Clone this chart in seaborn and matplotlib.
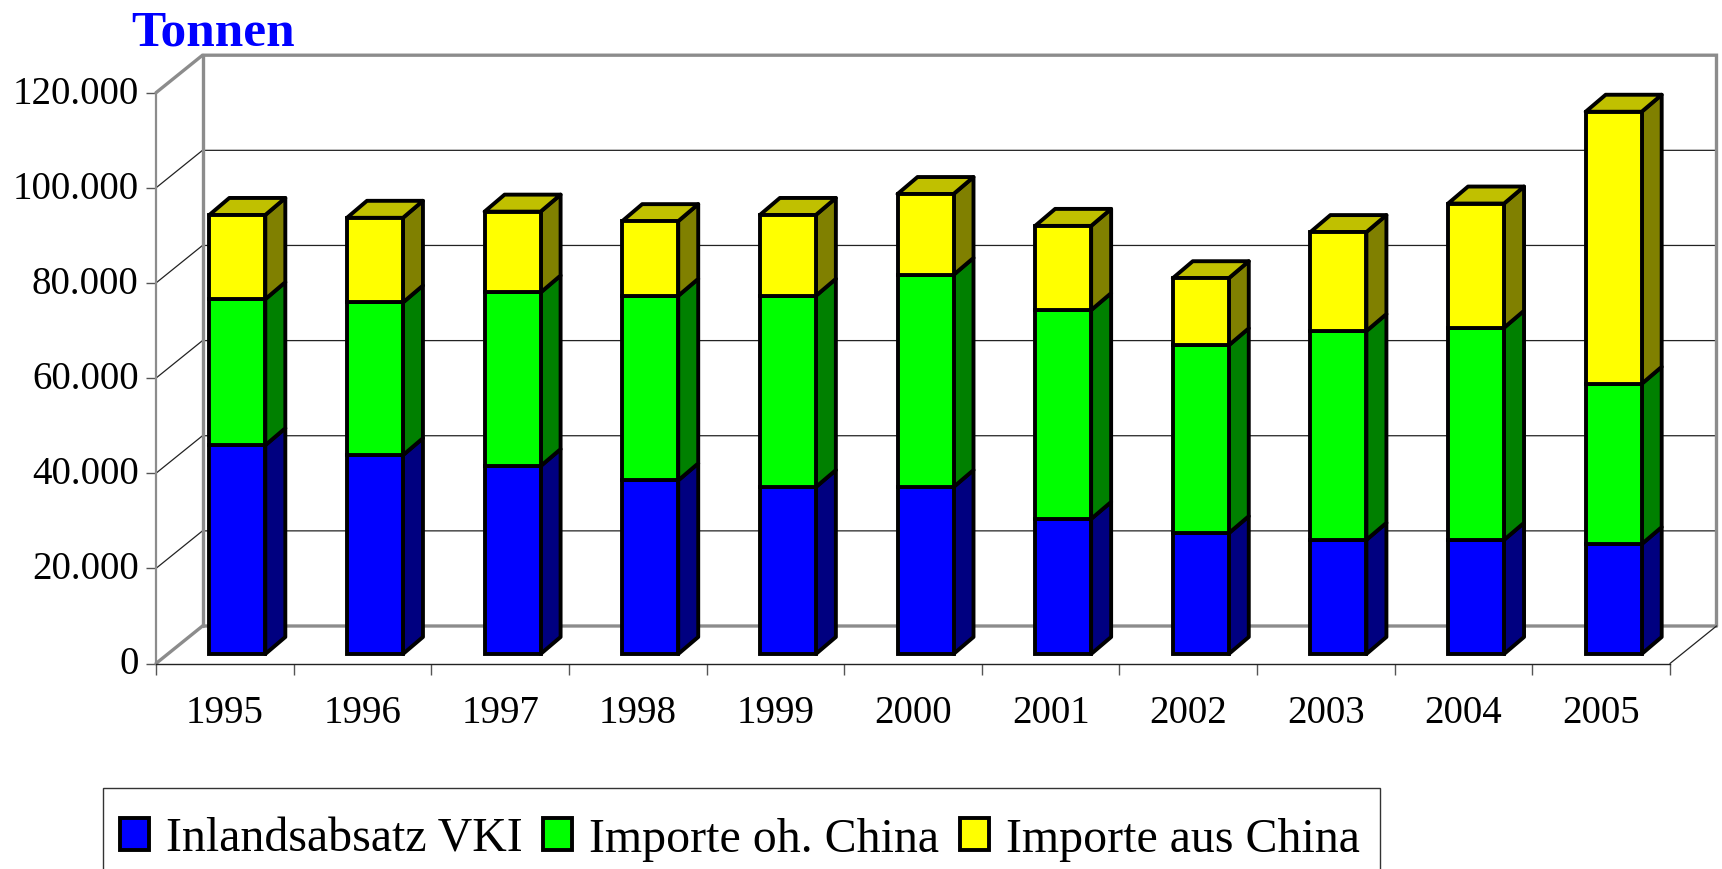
import numpy as np
import seaborn as sns
import matplotlib
matplotlib.use('Agg')
import matplotlib.pyplot as plt
from matplotlib.patches import Patch, Polygon, Rectangle
from matplotlib.ticker import FuncFormatter
from matplotlib.transforms import offset_copy, ScaledTranslation

years = ['1995', '1996', '1997', '1998', '1999', '2000', '2001', '2002', '2003', '2004', '2005']
inland = [43900, 41800, 39500, 36500, 35100, 35100, 28400, 25400, 24000, 24000, 23100]
imports_other = [30700, 32100, 36500, 38800, 40200, 44600, 43900, 39500, 43900, 44600, 33700]
imports_china = [17700, 17800, 17000, 15700, 17000, 17000, 17700, 14100, 20800, 26100, 57200]
series_names = ['Inlandsabsatz VKI', 'Importe oh. China', 'Importe aus China']
yticks = [0, 20000, 40000, 60000, 80000, 100000, 120000]

front_colors = ['#0000ff', '#00ff00', '#ffff00']
side_colors = ['#000080', '#008000', '#808000']
top_color = '#c0c000'
wall_gray = '#8c8c8c'

# pixel layout of the front plane, the rest hangs off it
PX_LEFT, PX_RIGHT, PX_BOTTOM, PX_TOP = 156, 1670, 664.5, 93.7
W, H = 1722, 870
px_x = (PX_RIGHT - PX_LEFT) / len(years)
px_y = (PX_BOTTOM - PX_TOP) / yticks[-1]
wall_dx, wall_dy = 46.5 / px_x, 37.5 / px_y
bar_dx, bar_dy = 20 / px_x, 17 / px_y
BAR_LW = 2.8

sns.set_style('white')
plt.rcParams['font.family'] = ['Liberation Serif', 'DejaVu Serif']
plt.rcParams['text.color'] = 'black'

fig = plt.figure(figsize=(W / 100, H / 100), dpi=100)
ax = fig.add_axes([PX_LEFT / W, (H - PX_BOTTOM) / H, (PX_RIGHT - PX_LEFT) / W, (PX_BOTTOM - PX_TOP) / H])

# stacked bars, front faces
bottom = np.zeros(len(years))
stacks = [inland, imports_other, imports_china]
for vals, col in zip(stacks, front_colors):
    sns.barplot(x=years, y=vals, bottom=bottom, color=col, saturation=1, width=56 / px_x,
                edgecolor='black', linewidth=BAR_LW, errorbar=None, ax=ax)
    bottom = bottom + np.array(vals)

ax.set_xlim(-0.5, len(years) - 0.5)
ax.set_ylim(0, yticks[-1])

# bars stand a little behind the front edge of the floor
shifted = offset_copy(ax.transData, fig=fig, x=12.5, y=9.5, units='dots')
for cont, side in zip(ax.containers, side_colors):
    for bar in cont:
        x, y, w, h = bar.get_x(), bar.get_y(), bar.get_width(), bar.get_height()
        bar.set_transform(shifted)
        bar.set_clip_on(False)
        bar.set_zorder(5)
        right = [(x + w, y), (x + w + bar_dx, y + bar_dy), (x + w + bar_dx, y + h + bar_dy), (x + w, y + h)]
        ax.add_patch(Polygon(right, closed=True, facecolor=side, edgecolor='black', linewidth=BAR_LW,
                             joinstyle='round', transform=shifted, clip_on=False, zorder=4))

for bar in ax.containers[-1]:
    x, y, w, h = bar.get_x(), bar.get_y(), bar.get_width(), bar.get_height()
    top = [(x, y + h), (x + bar_dx, y + h + bar_dy), (x + w + bar_dx, y + h + bar_dy), (x + w, y + h)]
    ax.add_patch(Polygon(top, closed=True, facecolor=top_color, edgecolor='black', linewidth=BAR_LW,
                         joinstyle='round', transform=shifted, clip_on=False, zorder=4))

# back wall, floor and gridlines
x0, x1 = -0.5, len(years) - 0.5
ymax = yticks[-1]
for v in yticks[1:-1]:
    ax.plot([x0, x0 + wall_dx, x1 + wall_dx], [v, v + wall_dy, v + wall_dy],
            color='#222222', lw=0.9, clip_on=False, zorder=1)
wall_kw = dict(color=wall_gray, lw=2.4, clip_on=False, zorder=2, solid_joinstyle='miter')
ax.plot([x0, x0 + wall_dx, x1 + wall_dx, x1 + wall_dx], [ymax, ymax + wall_dy, ymax + wall_dy, wall_dy], **wall_kw)
ax.plot([x0, x0 + wall_dx, x1 + wall_dx], [0, wall_dy, wall_dy], **wall_kw)
ax.plot([x0 + wall_dx, x0 + wall_dx], [wall_dy, ymax + wall_dy], **wall_kw)
ax.plot([x1, x1 + wall_dx], [0, wall_dy], color='#222222', lw=0.9, clip_on=False, zorder=2)

# axes
for name in ['top', 'right']:
    ax.spines[name].set_visible(False)
ax.spines['left'].set_color(wall_gray)
ax.spines['left'].set_linewidth(1.6)
ax.spines['bottom'].set_color('#222222')
ax.spines['bottom'].set_linewidth(1.0)
ax.set_yticks(yticks)
ax.yaxis.set_major_formatter(FuncFormatter(lambda v, pos: f'{int(v):,}'.replace(',', '.')))
ax.tick_params(axis='y', left=True, length=7.5, width=1.0, color='#555555', labelsize=28, pad=5, labelcolor='black')
nudge = ScaledTranslation(0, 3 / 72, fig.dpi_scale_trans)
for lab in ax.get_yticklabels():
    lab.set_transform(lab.get_transform() + nudge)

ax.set_xticks(np.arange(len(years) + 1) - 0.5)
ax.set_xticklabels([])
ax.set_xticks(np.arange(len(years)), labels=years, minor=True)
ax.tick_params(axis='x', which='major', bottom=True, length=8, width=1.0, color='#555555')
ax.tick_params(axis='x', which='minor', bottom=False, labelsize=28, pad=20, labelcolor='black')
ax.set_xlabel('')
ax.set_ylabel('')
ax.grid(False)

fig.text(131 / W, (H - 46) / H, 'Tonnen', color='#0000ff', fontsize=37, fontweight='bold', ha='left', va='baseline')

# legend frame runs off the bottom of the picture
fig.add_artist(Rectangle((103 / W, -20 / H), 1277 / W, (H - 789 + 20) / H, transform=fig.transFigure,
                         facecolor='white', edgecolor='#333333', linewidth=1.0))
handles = [Patch(facecolor=c, edgecolor='black', linewidth=BAR_LW, joinstyle='round', label=n)
           for c, n in zip(front_colors, series_names)]
leg = fig.legend(handles=handles, ncol=3, loc='center left', bbox_to_anchor=(120 / W, (H - 840) / H),
                 bbox_transform=fig.transFigure, borderaxespad=0, borderpad=0, fontsize=34.5, frameon=False,
                 handlelength=0.6, handleheight=0.63, handletextpad=0.355, columnspacing=0.44, labelcolor='black')

fig.savefig('out.png', dpi=100)
